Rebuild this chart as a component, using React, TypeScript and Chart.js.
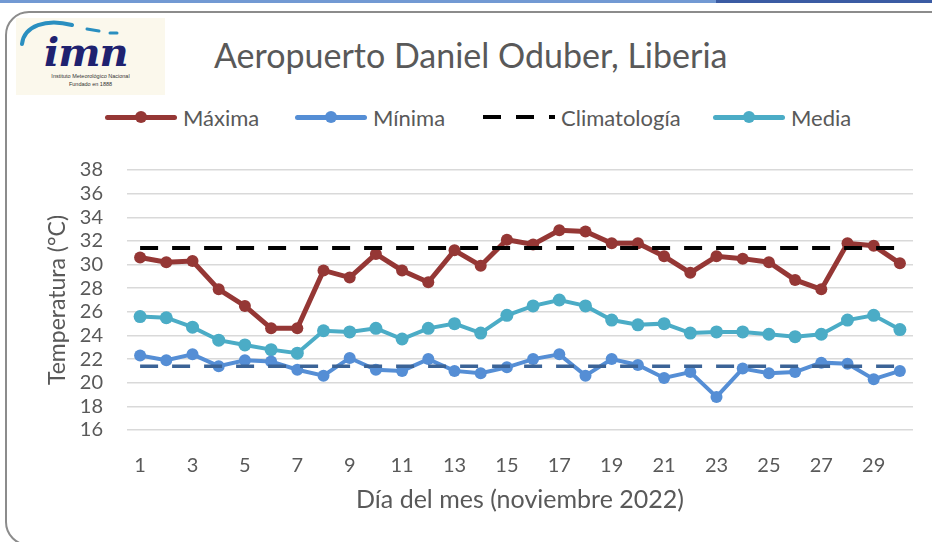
import React, { useEffect, useRef } from "react";
import { Chart, registerables } from "chart.js";
Chart.register(...registerables);

const days = ["1","2","3","4","5","6","7","8","9","10","11","12","13","14","15","16","17","18","19","20","21","22","23","24","25","26","27","28","29","30"];
const maxima = [30.6,30.2,30.3,27.9,26.5,24.6,24.6,29.5,28.9,30.9,29.5,28.5,31.2,29.9,32.1,31.7,32.9,32.8,31.8,31.8,30.7,29.3,30.7,30.5,30.2,28.7,27.9,31.8,31.6,30.1];
const minima = [22.3,21.9,22.4,21.4,21.9,21.8,21.1,20.6,22.1,21.1,21.0,22.0,21.0,20.8,21.3,22.0,22.4,20.6,22.0,21.5,20.4,20.9,18.8,21.2,20.8,20.9,21.7,21.6,20.3,21.0];
const media = [25.6,25.5,24.7,23.6,23.2,22.8,22.5,24.4,24.3,24.6,23.7,24.6,25.0,24.2,25.7,26.5,27.0,26.5,25.3,24.9,25.0,24.2,24.3,24.3,24.1,23.9,24.1,25.3,25.7,24.5];
const climMax = [31.4,31.4,31.4,31.4,31.4,31.4,31.4,31.4,31.4,31.4,31.4,31.4,31.4,31.4,31.4,31.4,31.4,31.4,31.4,31.4,31.4,31.4,31.4,31.4,31.4,31.4,31.4,31.4,31.4,31.4];
const climMin = [21.4,21.4,21.4,21.4,21.4,21.4,21.4,21.4,21.4,21.4,21.4,21.4,21.4,21.4,21.4,21.4,21.4,21.4,21.4,21.4,21.4,21.4,21.4,21.4,21.4,21.4,21.4,21.4,21.4,21.4];
const yMin = 16;
const yMax = 38;
const yStep = 2;

const TEXT = "#595959";
const FONT = "Lato, 'Open Sans', sans-serif";
const C_MAX = "#953735";
const C_MIN = "#558ed5";
const C_MED = "#4bacc6";
const C_CLIM = "#000000";
const C_CLIM_MIN = "#3b6396";

function LegendItem({ left, color, label, dashed }: { left: number; color: string; label: string; dashed?: boolean }) {
  return (
    <div style={{ position: "absolute", left, top: 103, height: 28, display: "flex", alignItems: "center" }}>
      <div style={{ position: "relative", width: 72, height: 28 }}>
        {dashed ? (
          <div style={{ position: "absolute", left: 0, top: 12, width: 72, height: 4, background: `repeating-linear-gradient(to right, ${color} 0 18px, transparent 18px 33px)` }} />
        ) : (
          <>
            <div style={{ position: "absolute", left: 0, top: 11.5, width: 72, height: 5, borderRadius: 3, background: color }} />
            <div style={{ position: "absolute", left: 30, top: 8, width: 12, height: 12, borderRadius: 6, background: color }} />
          </>
        )}
      </div>
      <span style={{ marginLeft: 6, fontFamily: FONT, fontSize: 22, color: TEXT, whiteSpace: "nowrap" }}>{label}</span>
    </div>
  );
}

export default function App() {
  const ref = useRef<HTMLCanvasElement>(null);
  useEffect(() => {
    const chart = new Chart(ref.current!, {
      type: "line",
      data: {
        labels: days,
        datasets: [
          { label: "Máxima", data: maxima, borderColor: C_MAX, backgroundColor: C_MAX, borderWidth: 5, pointRadius: 6, pointBorderWidth: 0, pointBackgroundColor: C_MAX, order: 2 },
          { label: "Mínima", data: minima, borderColor: C_MIN, backgroundColor: C_MIN, borderWidth: 4, pointRadius: 6, pointBorderWidth: 0, pointBackgroundColor: C_MIN, order: 2 },
          { label: "Climatología", data: climMax, borderColor: C_CLIM, borderWidth: 4, borderDash: [18, 14], pointRadius: 0, order: 0 },
          { label: "Media", data: media, borderColor: C_MED, backgroundColor: C_MED, borderWidth: 4, pointRadius: 6.5, pointBorderWidth: 0, pointBackgroundColor: C_MED, order: 2 },
          { label: "Climatología mínima", data: climMin, borderColor: C_CLIM_MIN, borderWidth: 3.5, borderDash: [18, 14], pointRadius: 0, order: 0 },
        ],
      },
      options: {
        animation: false,
        responsive: false,
        layout: { padding: { left: 40, top: 170, right: 19, bottom: 27 } },
        plugins: { legend: { display: false }, tooltip: { enabled: false } },
        scales: {
          x: {
            offset: true,
            grid: { display: false, drawTicks: false },
            border: { display: false },
            ticks: {
              autoSkip: false,
              maxRotation: 0,
              padding: 24,
              color: TEXT,
              font: { family: FONT, size: 20 },
              callback: (_v: any, i: number) => (i % 2 === 0 ? days[i] : ""),
            },
            title: { display: true, text: "Día del mes (noviembre 2022)", color: TEXT, font: { family: FONT, size: 25 }, padding: 0 },
            afterFit: (s: any) => { s.height = 85; },
          },
          y: {
            min: yMin,
            max: yMax,
            ticks: { stepSize: yStep, autoSkip: false, padding: 24, color: TEXT, font: { family: FONT, size: 20 } },
            grid: { color: "#d9d9d9", lineWidth: 1.5, drawTicks: false },
            border: { display: false },
            title: { display: true, text: "Temperatura (°C)", color: TEXT, font: { family: FONT, size: 23 }, padding: { top: 4, bottom: 0 } },
            afterFit: (s: any) => { s.width = 87; },
          },
        },
      },
    } as any);
    return () => chart.destroy();
  }, []);

  return (
    <div style={{ position: "fixed", left: 0, top: 0, width: 932, height: 542, background: "#ffffff", overflow: "hidden" }}>
      <div style={{ position: "absolute", left: 0, top: 0, width: 716, height: 3, background: "#7299d3" }} />
      <div style={{ position: "absolute", left: 716, top: 0, width: 216, height: 3, background: "#3b5ba3" }} />
      <div style={{ position: "absolute", left: 5, top: 11, width: 950, height: 535, border: "2px solid #8c8c8c", borderRadius: 24, boxSizing: "border-box" }} />
      <div style={{ position: "absolute", left: 16, top: 18, width: 149, height: 77, background: "#fbf8ec", overflow: "hidden" }}>
        <svg width={149} height={77} style={{ position: "absolute", left: 0, top: 0 }}>
          <path d="M6 26 C 8 8, 30 0, 56 7" stroke="#2a8fc0" strokeWidth={4} fill="none" strokeLinecap="round" />
          <path d="M71 11 L 83 13" stroke="#2a8fc0" strokeWidth={3} strokeLinecap="round" />
          <path d="M94 15 L 101 15" stroke="#2a8fc0" strokeWidth={3} strokeLinecap="round" />
        </svg>
        <div style={{ position: "absolute", left: 28, top: 12, fontFamily: "'DejaVu Serif', serif", fontStyle: "italic", fontWeight: "bold", fontSize: 40, lineHeight: "44px", color: "#1f2270", letterSpacing: -1 }}>imn</div>
        <div style={{ position: "absolute", left: 0, width: 149, top: 55, textAlign: "center", fontFamily: "'Liberation Sans', Arial, sans-serif", fontSize: 5.5, color: "#333" }}>Instituto Meteorológico Nacional</div>
        <div style={{ position: "absolute", left: 0, width: 149, top: 63, textAlign: "center", fontFamily: "'Liberation Sans', Arial, sans-serif", fontSize: 5.5, color: "#333" }}>Fundado en 1888</div>
      </div>
      <div style={{ position: "absolute", left: 214, top: 33, fontFamily: FONT, fontSize: 34, color: TEXT, whiteSpace: "nowrap", lineHeight: "44px" }}>Aeropuerto Daniel Oduber, Liberia</div>
      <LegendItem left={105} color={C_MAX} label="Máxima" />
      <LegendItem left={295} color={C_MIN} label="Mínima" />
      <LegendItem left={483} color={C_CLIM} label="Climatología" dashed />
      <LegendItem left={713} color={C_MED} label="Media" />
      <canvas ref={ref} width={932} height={542} style={{ position: "absolute", left: 0, top: 0 }} />
    </div>
  );
}
